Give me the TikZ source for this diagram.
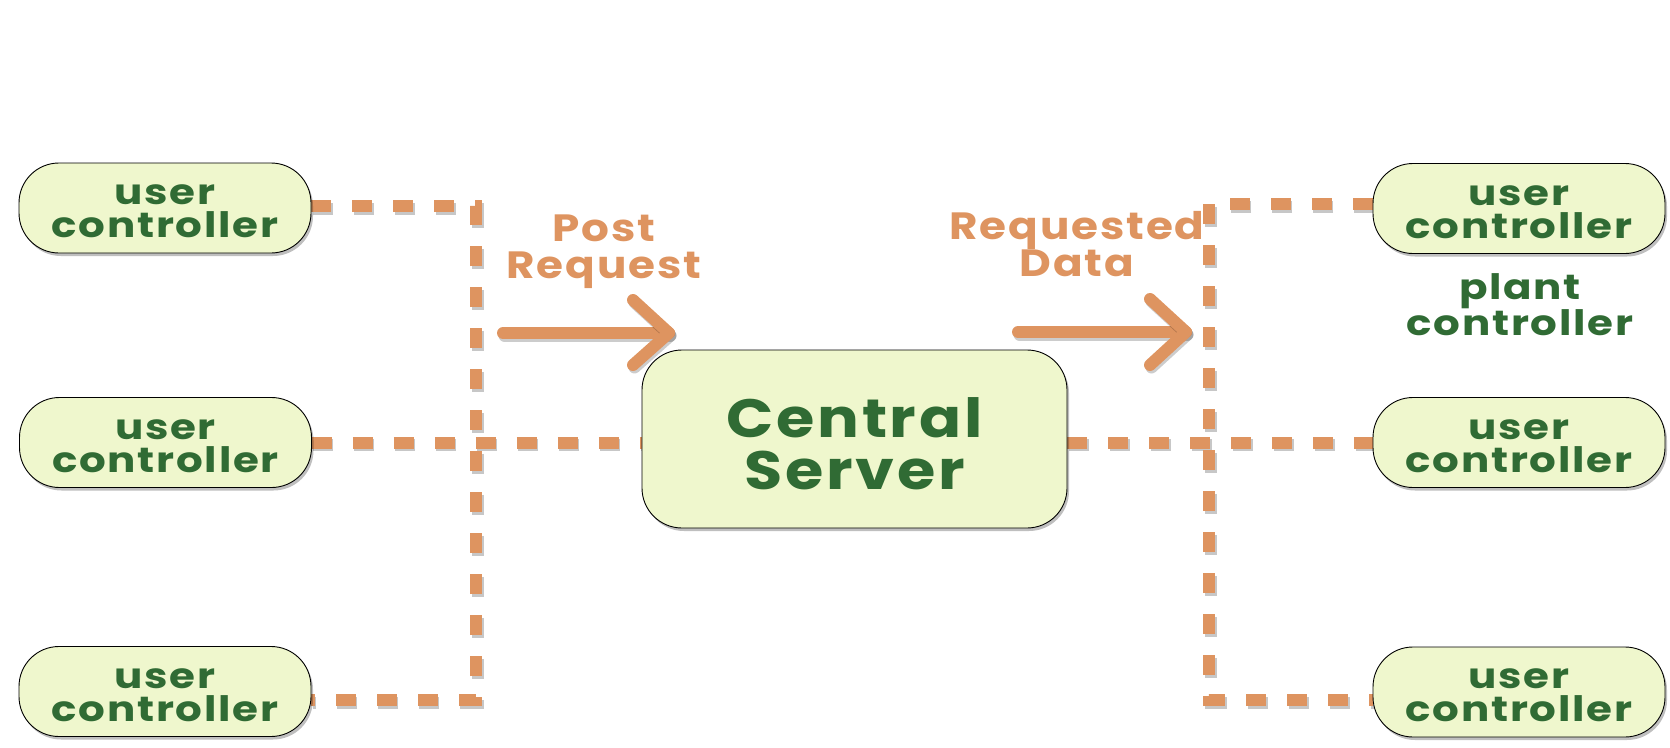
\documentclass[tikz,border=0pt]{standalone}
\usepackage{fontspec}
\setmainfont{Poppins}[FakeStretch=1.15, LetterSpace=5]
\newfontfamily\boxfont{Poppins}[FakeStretch=1.2, LetterSpace=5]
\usetikzlibrary{shadows,backgrounds}
\definecolor{boxfill}{RGB}{239,247,205}
\definecolor{txtgreen}{RGB}{48,107,52}
\definecolor{lineorange}{RGB}{222,148,96}
\newcommand{\lowerby}[1]{\rule{0pt}{#1}}
\tikzset{
  pill/.style={draw=black, line width=0.9pt, fill=boxfill, rounded corners=40pt,
    minimum width=292pt, minimum height=90pt, inner sep=0pt, align=center,
    text=txtgreen, font=\boxfont\bfseries\fontsize{35}{33}\selectfont,
    drop shadow={shadow xshift=2pt, shadow yshift=-3pt, opacity=0.25, fill=black}},
  srvbox/.style={draw=black, line width=0.9pt, fill=boxfill, rounded corners=40pt,
    minimum width=425pt, minimum height=178pt, inner sep=0pt, align=center,
    text=txtgreen, font=\bfseries\fontsize{54}{52}\selectfont,
    drop shadow={shadow xshift=2pt, shadow yshift=-3pt, opacity=0.25, fill=black}},
  orangelabel/.style={align=center, text=lineorange, font=\bfseries\fontsize{38}{37}\selectfont},
  greenlabel/.style={align=center, text=txtgreen, font=\boxfont\bfseries\fontsize{35}{33}\selectfont},
  dline/.style={draw=lineorange, line width=12pt, dash pattern=on 20pt off 21pt,
    preaction={draw=black, opacity=0.22, line width=12pt, dash pattern=on 20pt off 21pt,
      transform canvas={xshift=1.5pt, yshift=-2.5pt}}},
  bigarrow/.style={draw=lineorange, line width=12pt, line cap=round, line join=round,
    preaction={draw=black, opacity=0.2, line width=12pt, line cap=round, line join=round,
      transform canvas={xshift=1.5pt, yshift=-2.5pt}}}
}
\begin{document}
\begin{tikzpicture}[x=1pt,y=-1pt]
\useasboundingbox (0,0) rectangle (1670,747);
% corner coordinates of the dashed buses
\coordinate (cLt) at (476,206);
\coordinate (cLb) at (476,700);
\coordinate (cRt) at (1209,204);
\coordinate (cRb) at (1209,700);
% Nodes
\node[pill] (u1) at (165,208) {\lowerby{27pt}user\\controller};
\node[pill] (u2) at (165.5,442.5) {\lowerby{27pt}user\\controller};
\node[pill] (u3) at (165,691.5) {\lowerby{27pt}user\\controller};
\node[pill] (r1) at (1519,208.5) {\lowerby{27pt}user\\controller};
\node[pill] (r2) at (1519,442.5) {\lowerby{27pt}user\\controller};
\node[pill] (r3) at (1519,692) {\lowerby{27pt}user\\controller};
\node[srvbox] (srv) at (854.5,439) {\lowerby{50pt}Central\\Server};
% dashed connectors, behind the boxes
\begin{scope}[on background layer]
\draw[dline] (u1.east |- cLt) -- (cLt) -- (cLb) -- (cLb -| u3.east);
\draw[dline] (u2.east) -- (srv.west |- u2.east);
\draw[dline] (srv.east |- r2.west) -- (r2.west);
\draw[dline] (r1.west |- cRt) -- (cRt) -- (cRb) -- (cRb -| r3.west);
\end{scope}
% labels
\node[greenlabel] (plant) at (1520,305) {plant\\controller};
\node[orangelabel] (post) at (604,252) {Post\\Request};
\node[orangelabel] (reqd) at (1077,244) {Requested\\Data};
% big arrows
\coordinate (a1s) at (503,333); \coordinate (a1e) at (669,333);
\coordinate (a1u) at (633,300); \coordinate (a1d) at (633,365);
\draw[bigarrow] (a1s) -- (a1e);
\draw[bigarrow] (a1u) -- (a1e) -- (a1d);
\coordinate (a2s) at (1018,332); \coordinate (a2e) at (1186,332);
\coordinate (a2u) at (1150,299); \coordinate (a2d) at (1150,365);
\draw[bigarrow] (a2s) -- (a2e);
\draw[bigarrow] (a2u) -- (a2e) -- (a2d);
\end{tikzpicture}
\end{document}
